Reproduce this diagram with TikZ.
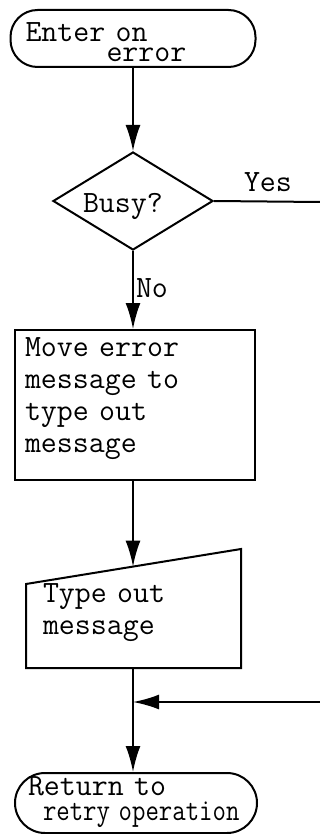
\documentclass[tikz,border=0pt]{standalone}
\usepackage{fontspec}
\usepackage{graphicx}
\usetikzlibrary{shapes.geometric,arrows.meta,calc}
\newcommand\myhi[1]{\rule{0pt}{#1}}
\newcommand\mylo[1]{\rule[-#1]{0pt}{#1}}
\begin{document}
\begin{tikzpicture}[x=1pt,y=-1pt, line width=2pt,
  every node/.style={font=\ttfamily\fontsize{31}{32}\selectfont, inner sep=0pt},
  term/.style={draw, align=left},
  proc/.style={draw, align=left},
  dec/.style={draw, diamond, aspect=1.63, minimum width=160pt, minimum height=98pt},
  flow/.style={-{Latex[length=26pt,width=15pt]}},
]
\fill[white] (0,0) rectangle (320,834);
\useasboundingbox (0,0) rectangle (320,834);

\node[term, rounded corners=27pt, minimum width=245pt, minimum height=57pt,
      inner xsep=15pt, text width=215pt] (start) at (133,38.5)
  {\myhi{27pt}Enter on\\[-12pt]\hspace*{81pt}error};

\node[dec, text height=31pt, text depth=7pt] (busy) at (133,201)
  {\makebox[82pt][l]{\hspace*{-9pt}Busy?}};

\node[proc, minimum width=240pt, minimum height=150pt, inner xsep=10pt,
      text width=220pt] (move) at (135,405)
  {\myhi{20pt}Move error\\message to\\type out\\message\mylo{22pt}};

\node[align=left, minimum width=213pt, minimum height=117pt, inner xsep=16pt,
      text width=181pt] (mi) at (133.5,608.5)
  {\myhi{27pt}Type out\\message\mylo{8pt}};
\draw (mi.south west) -- (mi.south east) -- (mi.north east)
      -- ($(mi.south west)+(0,-84)$) -- cycle;

\node[term, rounded corners=30pt, minimum width=242pt, minimum height=60pt,
      inner xsep=13pt, text width=216pt] (end) at (136,803)
  {\myhi{20pt}Return to\\[-7pt]\hspace*{15pt}\scalebox{0.84}[1]{retry operation}\mylo{11pt}};

\coordinate (yesout) at (320,202);
\coordinate (mitop) at (133,566.6);
\coordinate (retin) at (320,702);
\coordinate (join) at (133,702);

\draw[flow] (start.south) -- (busy.north);
\draw (busy.east) -- (yesout);
\node[anchor=base west] (yes) at (243,192) {Yes};
\draw[flow] (busy.south) -- (busy.south |- move.north);
\node[anchor=base west] (no) at (135,297) {No};
\draw[flow] (busy.south |- move.south) -- (mitop);
\draw (busy.south |- mi.south) -- (join);
\draw[flow] (join) -- (busy.south |- end.north);
\draw[flow] (retin) -- (join);
\end{tikzpicture}
\end{document}
